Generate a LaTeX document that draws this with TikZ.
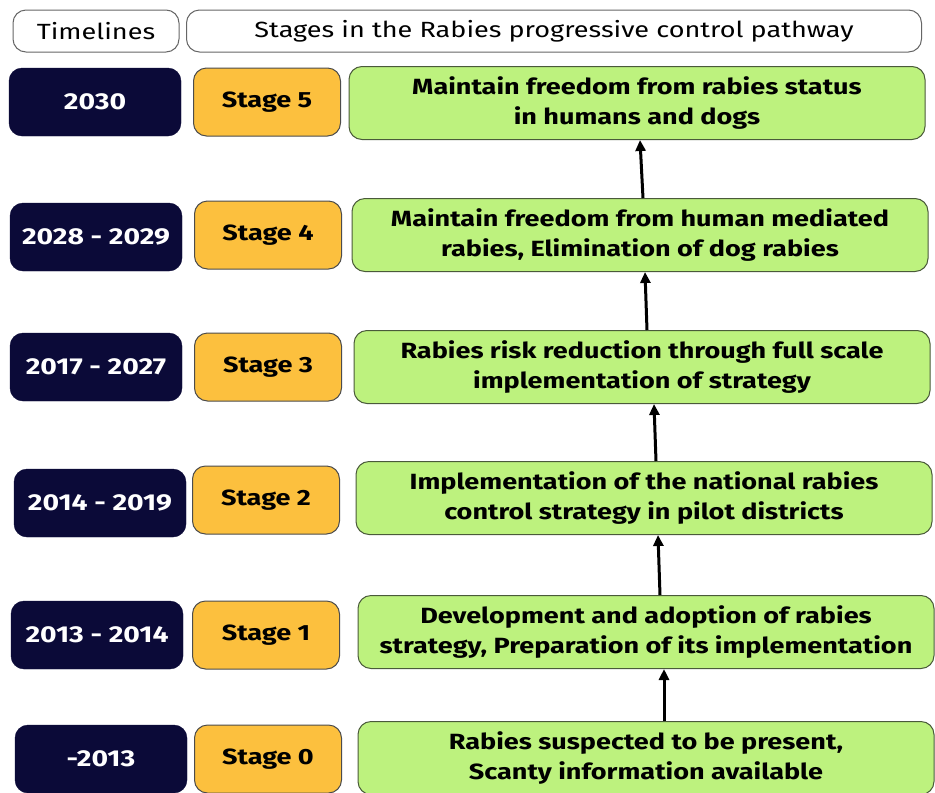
\documentclass[tikz,border=0pt]{standalone}
\usepackage{fontspec}
\setmainfont{Fira Sans}[FakeStretch=1.23]
\usetikzlibrary{arrows.meta}
\definecolor{navy}{HTML}{0B0A38}
\definecolor{ambr}{HTML}{FCC03E}
\definecolor{lgreen}{HTML}{BDF27E}
\definecolor{gborder}{HTML}{4A5A3A}
\begin{document}
\begin{tikzpicture}[x=1pt,y=-1pt,
  every node/.style={font=\fontsize{22}{30}\selectfont\bfseries, inner sep=2pt, align=center},
  hdr/.style={draw=gray!80!black, line width=1pt, fill=white, rounded corners=13pt, minimum height=42pt, text=black},
  yearbox/.style={draw=navy, fill=navy, text=white, rounded corners=13pt, minimum width=172pt, minimum height=68pt, font=\fontsize{23}{27}\selectfont\bfseries},
  stagebox/.style={draw=black!70, line width=1pt, fill=ambr, text=black, rounded corners=13pt, minimum width=147pt, minimum height=68pt},
  descbox/.style={draw=gborder, line width=1pt, fill=lgreen, text=black, rounded corners=13pt, minimum width=576pt, minimum height=73pt},
  arr/.style={line width=3pt, -{Triangle[length=11pt,width=10pt]}}
]
\useasboundingbox (0,0) rectangle (935,793);
\fill[white] (0,0) rectangle (935,793);

\node[hdr, minimum width=166pt] (tl) at (96,31) {\mdseries Timelines};
\node[hdr, minimum width=735pt] (st) at (554,31) {\mdseries Stages in the Rabies progressive control pathway};

\node[yearbox] (y5) at (95,102) {2030};
\node[stagebox] (s5) at (267,102) {Stage 5};
\node[descbox] (g5) at (637,103) {Maintain freedom from rabies status\\in humans and dogs};

\node[yearbox] (y4) at (96,237) {2028 - 2029};
\node[stagebox] (s4) at (268,235) {Stage 4};
\node[descbox] (g4) at (640,235) {Maintain freedom from human mediated\\rabies, Elimination of dog rabies};

\node[yearbox] (y3) at (96,367) {2017 - 2027};
\node[stagebox] (s3) at (268,367) {Stage 3};
\node[descbox] (g3) at (642,367) {Rabies risk reduction through full scale\\implementation of strategy};

\node[yearbox] (y2) at (100,503) {2014 - 2019};
\node[stagebox] (s2) at (266,500) {Stage 2};
\node[descbox] (g2) at (644,498) {Implementation of the national rabies\\control strategy in pilot districts};

\node[yearbox] (y1) at (97,635) {2013 - 2014};
\node[stagebox] (s1) at (266,635) {Stage 1};
\node[descbox] (g1) at (646,632) {Development and adoption of rabies\\strategy, Preparation of its implementation};

\node[yearbox] (y0) at (101,759) {-2013};
\node[stagebox] (s0) at (268,759) {Stage 0};
\node[descbox] (g0) at (646,758) {Rabies suspected to be present,\\Scanty information available};

\draw[arr] ([xshift=18pt]g0.north) -- ([xshift=18pt]g1.south);
\draw[arr] ([xshift=14pt]g1.north) -- ([xshift=14pt]g2.south);
\draw[arr] ([xshift=12pt]g2.north) -- ([xshift=12pt]g3.south);
\draw[arr] ([xshift=5pt]g3.north) -- ([xshift=5pt]g4.south);
\draw[arr] ([xshift=3pt]g4.north) -- ([xshift=3pt]g5.south);
\end{tikzpicture}
\end{document}
